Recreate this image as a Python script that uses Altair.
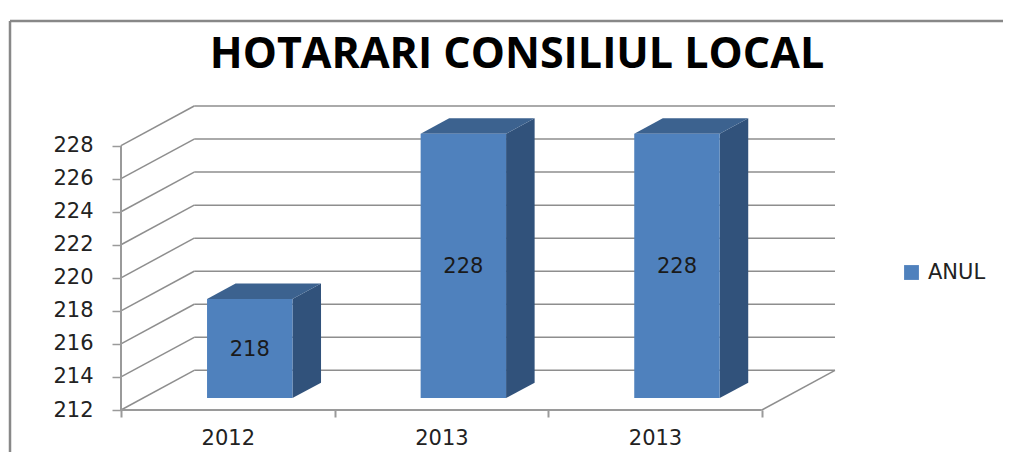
import altair as alt
import pandas as pd

TITLE = "HOTARARI CONSILIUL LOCAL"
SERIES = "ANUL"
categories = ["2012", "2013", "2013"]
values = [218, 228, 228]
y_ticks = [212, 214, 216, 218, 220, 222, 224, 226, 228]

# Oblique projection of the 3D box, in data units
DX, DY = 0.3427, 2.4
FRONT, BACK = 0.30, 0.69
BAR_W = 0.40
BASE = 212

rows_bar, rows_side, rows_top = [], [], []
for i, (c, v) in enumerate(zip(categories, values)):
    x0 = i + 0.5 - BAR_W / 2 + DX * FRONT
    x1 = x0 + BAR_W
    fy = DY * FRONT
    d = (BACK - FRONT)
    b0, t0 = BASE + fy, v + fy
    rows_bar.append(dict(x0=x0, x1=x1, cx=(x0 + x1) / 2, yb=b0, yt=t0, ym=(b0 + t0) / 2, v=v, s=SERIES))
    rows_side += [
        dict(b=i, x=x1, lo=b0, hi=t0),
        dict(b=i, x=x1 + DX * d, lo=b0 + DY * d, hi=t0 + DY * d),
    ]
    rows_top += [
        dict(b=i, x=x0, lo=t0, hi=t0),
        dict(b=i, x=x0 + DX * d, lo=t0, hi=t0 + DY * d),
        dict(b=i, x=x1, lo=t0, hi=t0 + DY * d),
        dict(b=i, x=x1 + DX * d, lo=t0 + DY * d, hi=t0 + DY * d),
    ]
bars = pd.DataFrame(rows_bar)
sides = pd.DataFrame(rows_side)
tops = pd.DataFrame(rows_top)

n = len(categories)
grid = pd.DataFrame({"v": y_ticks})
grid["bv"] = grid.v + DY
grid["x0"] = 0.0
grid["xb"] = DX
grid["xe"] = n + DX
floor = pd.DataFrame({"x": [0.0], "x2": [float(n)], "y": [BASE]})
floor_side = pd.DataFrame({"x": [float(n)], "x2": [n + DX], "y": [BASE], "y2": [BASE + DY]})
yaxis_line = pd.DataFrame({"x": [0.0], "y": [BASE], "y2": [max(y_ticks)]})
title_df = pd.DataFrame({"t": [TITLE]})

xs = alt.Scale(domain=[0, n + DX], nice=False, zero=False)
ys = alt.Scale(domain=[BASE, max(y_ticks) + DY], nice=False, zero=False)
GRID = "#8e8e8e"
AXIS = "#9a9a9a"
FONT = "DejaVu Sans"
SIZE = 21

tick_vals = [k / 2 for k in range(0, 2 * n + 1)]
label_expr = " : ".join(
    f"datum.value == {i + 0.5} ? '{c}'" for i, c in enumerate(categories)
) + " : ''"
x_axis = alt.Axis(
    title=None, values=tick_vals, labelExpr=label_expr, domain=False, grid=False,
    tickSize=7, tickColor=AXIS, tickWidth=2,
    tickOpacity={"condition": {"test": "datum.value % 1 == 0", "value": 1}, "value": 0},
    labelFont=FONT, labelFontSize=SIZE, labelColor="#222222", labelPadding=10,
    labelOverlap=False, labelFlush=False,
)
y_axis = alt.Axis(
    title=None, values=y_ticks, domain=False, grid=False, format="d",
    tickSize=9, tickColor=AXIS, tickWidth=1.5, labelOverlap=False, labelBound=False,
    labelFont=FONT, labelFontSize=SIZE, labelColor="#222222", labelPadding=19,
)


def X(field):
    return alt.X(field, scale=xs, axis=x_axis)


def Y(field):
    return alt.Y(field, scale=ys, axis=y_axis)


back_lines = alt.Chart(grid).mark_rule(color=GRID, strokeWidth=1.5).encode(
    x=X("xb:Q"), x2="xe:Q", y=Y("bv:Q"),
)
diag_lines = alt.Chart(grid).mark_rule(color=GRID, strokeWidth=1.5).encode(
    x=X("x0:Q"), x2="xb:Q", y=Y("v:Q"), y2="bv:Q",
)
floor_line = alt.Chart(floor).mark_rule(color=AXIS, strokeWidth=2).encode(
    x=X("x:Q"), x2="x2:Q", y=Y("y:Q"),
)
floor_diag = alt.Chart(floor_side).mark_rule(color=GRID, strokeWidth=1.5).encode(
    x=X("x:Q"), x2="x2:Q", y=Y("y:Q"), y2="y2:Q",
)
y_line = alt.Chart(yaxis_line).mark_rule(color=AXIS, strokeWidth=2).encode(
    x=X("x:Q"), y=Y("y:Q"), y2="y2:Q",
)
side = alt.Chart(sides).mark_area(color="#31527b").encode(
    x=X("x:Q"), y=Y("lo:Q"), y2="hi:Q", detail="b:N",
)
top = alt.Chart(tops).mark_area(color="#3c628f").encode(
    x=X("x:Q"), y=Y("lo:Q"), y2="hi:Q", detail="b:N",
)
front = alt.Chart(bars).mark_rect().encode(
    x=X("x0:Q"), x2="x1:Q",
    y=Y("yb:Q"), y2="yt:Q",
    color=alt.Color(
        "s:N",
        scale=alt.Scale(domain=[SERIES], range=["#4f81bd"]),
        legend=alt.Legend(
            title=None, orient="none", legendX=780, legendY=156,
            symbolType="square", symbolSize=220, symbolStrokeWidth=0,
            labelFont=FONT, labelFontSize=SIZE, labelColor="#222222", labelOffset=6,
        ),
    ),
)
labels = alt.Chart(bars).mark_text(font=FONT, fontSize=SIZE, color="#1a1a1a", dy=1).encode(
    x=X("cx:Q"), y=Y("ym:Q"), text=alt.Text("v:Q", format="d"),
)
title_mark = alt.Chart(title_df).mark_text(
    font="Open Sans", fontSize=43, fontWeight=700, color="#000000",
    align="center", baseline="alphabetic",
).encode(x=alt.value(396), y=alt.value(-38), text="t:N")

frame_top = alt.Chart(floor).mark_rule(color="#888888", strokeWidth=2.5).encode(
    x=alt.value(-111), x2=alt.value(882), y=alt.value(-85),
)
frame_left = alt.Chart(floor).mark_rule(color="#888888", strokeWidth=2.5).encode(
    x=alt.value(-111), y=alt.value(-85), y2=alt.value(346),
)

chart = alt.layer(
    frame_top, frame_left, title_mark, back_lines, diag_lines, floor_line, floor_diag, y_line,
    side, top, front, labels,
).properties(
    width=714, height=304,
    padding={"left": 113, "top": 98, "right": 168, "bottom": 42},
    autosize=alt.AutoSizeParams(type="none"),
).configure_view(stroke=None)

chart.save("out.html", embed_options={"renderer": "svg", "actions": False})
